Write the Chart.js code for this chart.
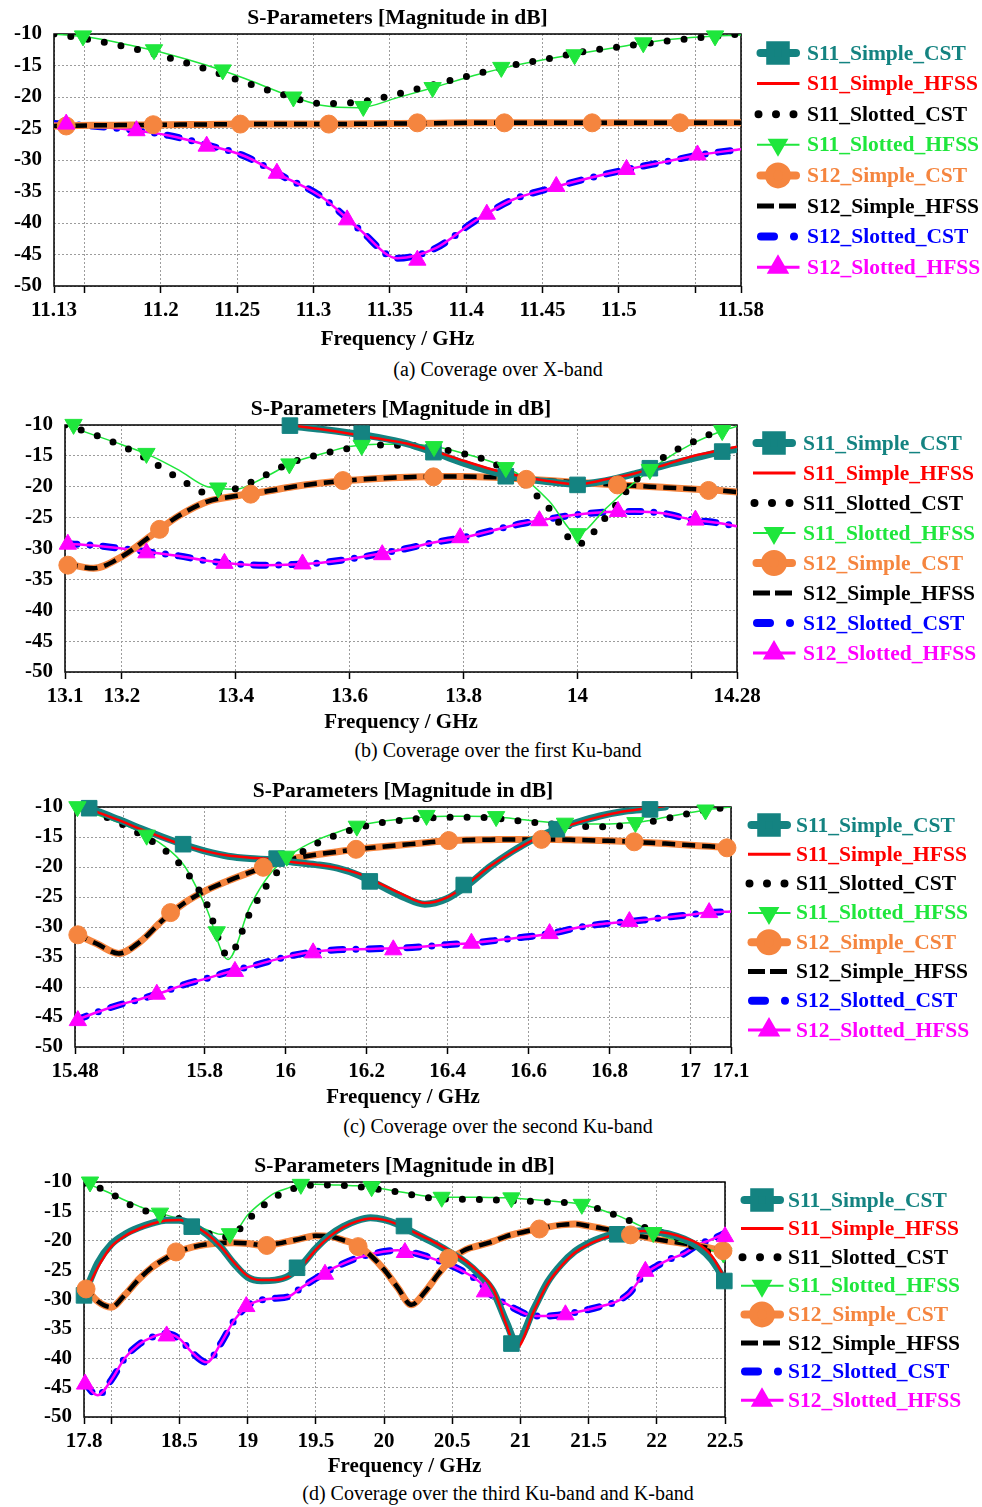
<!DOCTYPE html>
<html>
<head>
<meta charset="utf-8">
<script src="https://cdn.jsdelivr.net/npm/chart.js@4.4.1/dist/chart.umd.min.js"></script>
<style>
  html, body { margin: 0; padding: 0; background: #fff; }
  body { width: 982px; height: 1507px; position: relative; overflow: hidden; }
  canvas { position: absolute; left: 0; }
  .cap { position: absolute; left: 0; width: 996px; text-align: center; line-height: 24px;
         font: 20px 'Liberation Serif', 'Times New Roman', serif; color: #000; }
</style>
</head>
<body>
<canvas id="chartA" width="982" height="352" style="top:0px"></canvas>
<div class="cap" style="top:358px">(a) Coverage over X-band</div>
<canvas id="chartB" width="982" height="345" style="top:390px"></canvas>
<div class="cap" style="top:739px">(b) Coverage over the first Ku-band</div>
<canvas id="chartC" width="982" height="338" style="top:772px"></canvas>
<div class="cap" style="top:1115px">(c) Coverage over the second Ku-band</div>
<canvas id="chartD" width="982" height="332" style="top:1147px"></canvas>
<div class="cap" style="top:1482px">(d) Coverage over the third Ku-band and K-band</div>

<script>
/* ---------- (a) X-band ---------- */
const freqA = [11.13, 11.155, 11.18, 11.205, 11.23, 11.255, 11.28, 11.305, 11.33, 11.355,
               11.38, 11.405, 11.43, 11.455, 11.48, 11.505, 11.53, 11.555, 11.58];
const a_s11SimpleCst = [];   // above -10 dB over the whole band, nothing on the plot
const a_s11SimpleHfss = [];
const a_s11SlottedCst = [-10.0, -10.96, -12.2, -13.76, -15.6, -17.68, -19.63, -21.02, -20.8, -19.5,
                         -17.97, -16.45, -14.99, -13.85, -12.68, -11.9, -11.17, -10.53, -10.0];
const a_s11SlottedHfss = [-10.0, -10.6, -11.8, -13.2, -14.97, -17.07, -19.42, -21.3, -21.7, -20.1,
                          -18.4, -16.6, -15.1, -13.9, -12.85, -11.85, -10.95, -10.45, -10.15];
const a_s12SimpleCst = [-24.6, -24.5, -24.45, -24.4, -24.35, -24.3, -24.3, -24.3, -24.25, -24.2,
                        -24.15, -24.1, -24.1, -24.1, -24.1, -24.1, -24.1, -24.1, -24.1];
const a_s12SimpleHfss = a_s12SimpleCst;      // the two solvers overlap
const a_s12SlottedCst = [-24.2, -24.6, -25.2, -26.1, -27.6, -29.4, -32.6, -35.8, -41.0, -45.6,
                         -44.0, -39.8, -36.35, -34.5, -32.9, -31.5, -30.3, -29.1, -28.3];
const a_s12SlottedHfss = a_s12SlottedCst;
const a_squareMarks = [];
const a_triDownMarks = [[11.149, -10.3], [11.1955, -12.5], [11.2405, -15.7], [11.2868, -20.0], [11.3326, -21.5],
                        [11.378, -18.5], [11.423, -15.3], [11.471, -13.3], [11.516, -11.4], [11.563, -10.3]];
const a_circleMarks = [[11.138, -24.6], [11.195, -24.4], [11.252, -24.3], [11.31, -24.3],
                       [11.368, -24.1], [11.425, -24.1], [11.4825, -24.1], [11.54, -24.1]];
const a_triUpMarks = [[11.138, -24.3], [11.184, -25.35], [11.23, -27.8], [11.276, -32.1], [11.322, -39.5],
                      [11.368, -45.9], [11.4135, -38.6], [11.459, -34.2], [11.505, -31.5], [11.5515, -29.2]];
const a_tickVals = [11.13, 11.15, 11.2, 11.25, 11.3, 11.35, 11.4, 11.45, 11.5, 11.55, 11.58];
const a_tickText = ['11.13', '', '11.2', '11.25', '11.3', '11.35', '11.4', '11.45', '11.5', '', '11.58'];

/* ---------- (b) first Ku-band ---------- */
const freqB = [13.1, 13.15, 13.2, 13.25, 13.3, 13.35, 13.4, 13.45, 13.5, 13.55, 13.6, 13.65, 13.7,
               13.75, 13.8, 13.85, 13.9, 13.95, 14.0, 14.05, 14.1, 14.15, 14.2, 14.25, 14.28];
const b_s11SimpleCst = [null, null, null, null, null, null, null, null, -10.2, -10.7, -11.3, -12.0, -13.0,
                        -14.5, -16.2, -17.6, -18.6, -19.2, -19.6, -19.0, -17.9, -16.6, -15.5, -14.4, -13.9];
const b_s11SimpleHfss = [null, null, null, null, null, null, null, null, -10.1, -10.7, -11.4, -12.2, -13.0,
                         -14.3, -15.8, -17.2, -18.3, -19.1, -19.6, -18.8, -17.85, -16.55, -15.1, -14.1, -13.5];
const b_s11SlottedCst = [-10.0, -11.5, -13.4, -15.8, -18.65, -21.0, -20.3, -18.2, -16.0, -14.7, -13.75, -13.25, -13.3,
                         -13.8, -14.65, -16.1, -19.2, -23.5, -29.3, -24.9, -19.2, -15.3, -12.85, -10.9, -10.2];
const b_s11SlottedHfss = [-10.0, -11.6, -13.2, -14.95, -17.3, -20.0, -20.4, -18.5, -16.1, -14.7, -13.5, -13.1, -13.1,
                          -13.5, -14.6, -16.0, -18.2, -22.3, -27.6, -23.5, -19.3, -15.8, -13.1, -11.1, -10.2];
const b_s12SimpleCst = [-32.4, -33.2, -31.3, -28.0, -24.7, -22.4, -21.5, -20.8, -20.0, -19.4, -18.95, -18.65, -18.45,
                        -18.35, -18.35, -18.45, -18.7, -19.0, -19.3, -19.6, -19.85, -20.1, -20.35, -20.6, -20.85];
const b_s12SimpleHfss = b_s12SimpleCst;
const b_s12SlottedCst = [-29.2, -29.5, -30.0, -30.6, -31.2, -32.0, -32.5, -32.7, -32.6, -32.3, -31.7, -30.9, -30.0,
                         -29.0, -28.2, -27.1, -26.0, -25.2, -24.5, -24.1, -24.0, -24.3, -25.3, -25.9, -26.4];
const b_s12SlottedHfss = b_s12SlottedCst;
const b_squareMarks = [[13.495, -10.1], [13.621, -11.4], [13.747, -14.4], [13.874, -18.3],
                       [14.0, -19.7], [14.127, -17.0], [14.254, -14.3]];
const b_triDownMarks = [[13.115, -9.9], [13.243, -14.6], [13.369, -20.2], [13.494, -16.3], [13.621, -13.3],
                        [13.748, -13.5], [13.874, -16.9], [14.0, -27.6], [14.127, -17.2], [14.254, -10.9]];
const b_circleMarks = [[13.105, -32.7], [13.266, -26.9], [13.426, -21.2], [13.588, -19.0],
                       [13.747, -18.4], [13.91, -18.8], [14.07, -19.7], [14.23, -20.6]];
const b_triUpMarks = [[13.105, -29.3], [13.243, -30.7], [13.38, -32.4], [13.517, -32.5], [13.657, -31.0],
                      [13.794, -28.25], [13.933, -25.5], [14.071, -24.0], [14.207, -25.4]];
const b_tickVals = [13.1, 13.2, 13.4, 13.6, 13.8, 14.0, 14.2, 14.28];
const b_tickText = ['13.1', '13.2', '13.4', '13.6', '13.8', '14', '', '14.28'];

/* ---------- (c) second Ku-band ---------- */
const freqC = [15.48, 15.534, 15.588, 15.642, 15.696, 15.75, 15.804, 15.858, 15.912, 15.966, 16.02,
               16.074, 16.128, 16.182, 16.236, 16.29, 16.344, 16.398, 16.452, 16.506, 16.56,
               16.614, 16.668, 16.722, 16.776, 16.83, 16.884, 16.938, 16.992, 17.046, 17.1];
const c_s11SimpleCst = [-9.8, -10.7, -12.1, -13.6, -15.0, -16.3, -17.4, -18.2, -18.6, -18.8, -19.2,
                        -19.6, -20.2, -21.4, -23.2, -25.0, -26.2, -25.3, -22.9, -19.9, -17.4,
                        -15.3, -13.7, -12.5, -11.5, -10.8, -10.4, -10.0, null, null, null];
const c_s11SimpleHfss = [-9.4, -10.8, -12.2, -13.7, -15.1, -16.4, -17.4, -18.1, -18.45, -18.7, -19.2,
                         -19.6, -20.15, -21.15, -22.85, -24.6, -26.0, -25.1, -22.7, -19.85, -17.5,
                         -15.4, -13.8, -12.6, -11.6, -10.8, -10.3, -9.85, null, null, null];
const c_s11SlottedCst = [-10.0, -11.1, -12.6, -14.6, -16.9, -20.4, -26.0, -34.8, -27.7, -21.9, -18.5,
                         -16.2, -14.6, -13.45, -12.63, -12.2, -11.85, -11.72, -11.7, -11.8, -12.2,
                         -12.56, -12.9, -13.2, -13.28, -13.12, -12.67, -11.98, -11.14, -10.46, -10.0];
const c_s11SlottedHfss = [-10.0, -11.3, -12.6, -14.2, -16.3, -19.8, -26.8, -35.4, -26.6, -20.8, -17.6,
                          -15.6, -14.2, -13.1, -12.4, -11.95, -11.65, -11.55, -11.55, -11.6, -11.9,
                          -12.3, -12.65, -12.85, -12.85, -12.7, -12.4, -11.7, -11.0, -10.4, -10.0];
const c_s12SimpleCst = [-31.1, -32.8, -34.4, -32.4, -28.9, -26.0, -23.9, -22.3, -20.9, -19.6, -18.6,
                        -17.95, -17.45, -17.0, -16.64, -16.3, -15.96, -15.63, -15.5, -15.45, -15.4,
                        -15.4, -15.4, -15.5, -15.6, -15.7, -15.9, -16.1, -16.35, -16.55, -16.8];
const c_s12SimpleHfss = c_s12SimpleCst;
const c_s12SlottedCst = [-45.6, -44.2, -43.0, -42.0, -40.9, -39.6, -38.6, -37.5, -36.6, -35.6, -34.7,
                         -34.1, -33.8, -33.7, -33.6, -33.5, -33.25, -32.95, -32.7, -32.35, -31.9,
                         -31.5, -30.9, -30.1, -29.55, -29.2, -28.85, -28.4, -28.0, -27.6, -27.4];
const c_s12SlottedHfss = c_s12SlottedCst;
const c_squareMarks = [[15.515, -10.2], [15.747, -16.2], [15.978, -18.6], [16.208, -22.4],
                       [16.44, -23.0], [16.67, -13.7], [16.9, -10.4]];
const c_triDownMarks = [[15.486, -9.95], [15.657, -14.7], [15.83, -30.8], [16.003, -18.2], [16.176, -13.2],
                        [16.348, -11.4], [16.52, -11.6], [16.69, -12.7], [16.864, -12.6], [17.037, -10.5]];
const c_circleMarks = [[15.487, -31.3], [15.716, -27.6], [15.945, -20.05], [16.174, -17.05],
                       [16.403, -15.6], [16.632, -15.4], [16.861, -15.8], [17.09, -16.8]];
const c_triUpMarks = [[15.487, -45.6], [15.682, -41.2], [15.875, -37.4], [16.068, -34.3], [16.266, -33.8],
                      [16.459, -32.7], [16.652, -31.1], [16.849, -29.1], [17.046, -27.6]];
const c_tickVals = [15.48, 15.6, 15.8, 16.0, 16.2, 16.4, 16.6, 16.8, 17.0, 17.1];
const c_tickText = ['15.48', '', '15.8', '16', '16.2', '16.4', '16.6', '16.8', '17', '17.1'];

/* ---------- (d) third Ku-band and K-band ---------- */
const freqD = [17.8, 17.9, 18.0, 18.1, 18.2, 18.3, 18.4, 18.5, 18.6, 18.7, 18.8, 18.9,
               19.0, 19.1, 19.2, 19.3, 19.4, 19.5, 19.6, 19.7, 19.8, 19.9, 20.0, 20.1,
               20.2, 20.3, 20.4, 20.5, 20.6, 20.7, 20.8, 20.9, 20.97, 21.1, 21.2, 21.3,
               21.4, 21.5, 21.6, 21.7, 21.8, 21.9, 22.0, 22.1, 22.2, 22.3, 22.4, 22.5];
const d_s11SimpleCst = [-29.3, -23.8, -20.6, -18.9, -17.8, -17.0, -16.5, -16.5, -17.4, -18.9, -21.0, -23.9,
                        -26.2, -26.8, -26.7, -26.0, -24.0, -21.3, -19.1, -17.6, -16.6, -16.1, -16.4, -17.2,
                        -18.4, -19.6, -20.8, -22.2, -23.7, -25.8, -28.6, -34.0, -37.3, -31.5, -27.0, -24.0,
                        -21.8, -20.4, -19.4, -18.8, -18.5, -18.3, -18.5, -18.9, -19.7, -21.0, -23.2, -26.8];
const d_s11SimpleHfss = [-29.5, -24.6, -21.0, -19.2, -18.0, -17.1, -16.55, -16.45, -17.4, -18.8, -20.9, -23.7,
                         -26.0, -26.7, -26.7, -26.1, -24.25, -21.5, -19.3, -17.7, -16.7, -16.2, -16.45, -17.2,
                         -18.3, -19.45, -20.65, -22.0, -23.5, -25.5, -28.2, -34.5, -38.3, -31.9, -27.3, -24.3,
                         -22.0, -20.6, -19.65, -18.9, -18.6, -18.35, -18.5, -18.8, -19.5, -20.45, -22.5, -26.4];
const d_s11SlottedCst = [-10.2, -10.9, -11.97, -13.4, -14.5, -15.28, -15.77, -16.23, -17.3, -18.63, -19.37, -18.9,
                         -16.5, -14.3, -12.6, -11.4, -10.76, -10.5, -10.5, -10.6, -10.77, -11.09, -11.38, -11.7,
                         -12.15, -12.6, -12.82, -12.93, -12.96, -13.0, -13.06, -13.15, -13.2, -13.29, -13.39, -13.5,
                         -13.46, -13.97, -14.8, -15.67, -16.56, -17.63, -18.4, -18.96, -20.1, -21.5, -21.9, -21.9];
const d_s11SlottedHfss = [-10.0, -11.0, -12.0, -13.1, -14.1, -15.0, -15.6, -16.3, -17.2, -18.1, -18.9, -18.6,
                          -15.6, -13.5, -11.85, -11.0, -10.45, -10.4, -10.45, -10.55, -10.65, -10.8, -11.2, -11.6,
                          -12.0, -12.4, -12.6, -12.6, -12.6, -12.6, -12.65, -12.7, -12.75, -13.0, -13.2, -13.4,
                          -13.6, -14.1, -14.8, -15.6, -16.6, -17.7, -18.8, -19.6, -20.3, -21.0, -21.6, -22.2];
const d_s12SimpleCst = [-27.7, -30.3, -31.3, -29.2, -26.6, -24.5, -23.0, -21.8, -21.05, -20.6, -20.37, -20.33,
                        -20.46, -20.73, -20.56, -20.1, -19.6, -19.16, -19.26, -19.9, -20.7, -22.47, -24.9, -27.97,
                        -30.9, -28.7, -25.6, -23.0, -21.5, -20.8, -20.1, -19.2, -18.8, -18.1, -17.67, -17.3,
                        -17.14, -17.5, -17.9, -18.4, -18.87, -19.3, -19.76, -20.12, -20.46, -20.86, -21.3, -21.75];
const d_s12SimpleHfss = d_s12SimpleCst;
const d_s12SlottedCst = [-44.1, -46.3, -43.7, -39.95, -37.7, -36.4, -35.8, -36.7, -39.2, -40.7, -37.6, -33.6,
                         -31.05, -30.1, -29.8, -29.5, -27.9, -26.4, -25.0, -23.9, -22.96, -22.3, -21.84, -21.6,
                         -21.96, -22.57, -23.4, -24.3, -25.46, -27.0, -29.5, -30.8, -31.7, -32.8, -32.8, -32.6,
                         -32.2, -31.7, -31.1, -30.4, -28.9, -25.9, -24.3, -23.1, -22.2, -20.7, -19.8, -18.7];
const d_s12SlottedHfss = d_s12SlottedCst;
const d_squareMarks = [[17.8, -29.3], [18.59, -17.6], [19.362, -24.6], [20.146, -17.5],
                       [20.934, -37.5], [21.71, -18.9], [22.495, -26.85]];
const d_triDownMarks = [[17.844, -10.0], [18.357, -15.3], [18.87, -18.8], [19.39, -10.4], [19.909, -10.8],
                        [20.423, -12.6], [20.934, -12.7], [21.45, -13.8], [21.974, -18.6], [22.488, -22.1]];
const d_circleMarks = [[17.815, -28.2], [18.475, -21.9], [19.14, -20.8], [19.81, -21.0],
                       [20.473, -23.0], [21.139, -18.0], [21.807, -19.0], [22.485, -21.7]];
const d_triUpMarks = [[17.808, -44.4], [18.406, -36.2], [18.99, -31.2], [19.567, -25.7], [20.153, -22.0],
                      [20.74, -28.7], [21.33, -32.6], [21.916, -25.2], [22.5, -19.3]];
const d_tickVals = [17.8, 18, 18.5, 19, 19.5, 20, 20.5, 21, 21.5, 22, 22.5];
const d_tickText = ['17.8', '', '18.5', '19', '19.5', '20', '20.5', '21', '21.5', '22', '22.5'];

/* ---------- styles ---------- */
const FONT = "'Liberation Serif', 'Times New Roman', serif";
const TEAL = '#148381', RED = '#ff0000', GREEN = '#1fe63c', ORANGE = '#f5853f',
      BLUE = '#0000ff', MAGENTA = '#ff00ff', BLACK = '#000000';

const MARKERS = {
  square:  { pointStyle: 'rect', radius: 11, rotation: 0 },
  triDown: { pointStyle: 'triangle', radius: 10, rotation: 180 },
  circle:  { pointStyle: 'circle', radius: 9, rotation: 0 },
  triUp:   { pointStyle: 'triangle', radius: 10, rotation: 0 }
};

// legend order; legDash / legStart shape the short legend sample
const SERIES = [
  { key: 's11SimpleCst',   label: 'S11_Simple_CST',   color: TEAL,    width: 7,   dash: [],              cap: 'round', marker: 'square' },
  { key: 's11SimpleHfss',  label: 'S11_Simple_HFSS',  color: RED,     width: 2.5, dash: [],              cap: 'butt' },
  { key: 's11SlottedCst',  label: 'S11_Slotted_CST',  color: BLACK,   width: 7,   dash: [0, 17],         cap: 'round', legDash: [0, 17.5], legStart: 1.5 },
  { key: 's11SlottedHfss', label: 'S11_Slotted_HFSS', color: GREEN,   width: 1.5, dash: [],              cap: 'butt',  marker: 'triDown' },
  { key: 's12SimpleCst',   label: 'S12_Simple_CST',   color: ORANGE,  width: 7,   dash: [],              cap: 'round', marker: 'circle' },
  { key: 's12SimpleHfss',  label: 'S12_Simple_HFSS',  color: BLACK,   width: 4.5, dash: [13, 7],         cap: 'butt',  legDash: [17, 5], legStart: 0 },
  { key: 's12SlottedCst',  label: 'S12_Slotted_CST',  color: BLUE,    width: 7,   dash: [12, 13, 0, 13], cap: 'round', legDash: [13, 20, 0, 40], legStart: 4 },
  { key: 's12SlottedHfss', label: 'S12_Slotted_HFSS', color: MAGENTA, width: 2.5, dash: [],              cap: 'butt',  marker: 'triUp' }
];
const styleOf = k => SERIES.find(s => s.key === k);
// first drawn on top
const LINE_ORDER = ['s11SimpleHfss', 's11SimpleCst', 's11SlottedCst', 's11SlottedHfss',
                    's12SimpleHfss', 's12SimpleCst', 's12SlottedHfss', 's12SlottedCst'];
const MARK_ORDER = [['triUp', 's12SlottedHfss'], ['circle', 's12SimpleCst'],
                    ['triDown', 's11SlottedHfss'], ['square', 's11SimpleCst']];

/* ---------- dataset builders ---------- */
function lineSet(freq, vals, st) {
  const pts = [];
  vals.forEach((v, i) => { if (v !== null && v !== undefined) pts.push({ x: freq[i], y: v }); });
  return {
    label: st.label, data: pts, borderColor: st.color, backgroundColor: st.color,
    borderWidth: st.width, borderDash: st.dash, borderCapStyle: st.cap, borderJoinStyle: 'round',
    pointRadius: 0, cubicInterpolationMode: 'monotone', fill: false
  };
}

function markSet(pairs, mk, st) {
  const m = MARKERS[mk];
  return {
    label: st.label + ' markers', data: pairs.map(p => ({ x: p[0], y: p[1] })),
    showLine: false, pointStyle: m.pointStyle, pointRadius: m.radius, pointRotation: m.rotation,
    pointBackgroundColor: st.color, pointBorderColor: st.color, pointBorderWidth: 1, clip: false
  };
}

/* ---------- frame, title and legend ---------- */
const panelDecor = {
  id: 'panelDecor',
  beforeDatasetsDraw(chart) {
    const { ctx, chartArea: a } = chart;
    ctx.save();
    ctx.strokeStyle = '#000';
    ctx.lineWidth = 1.5;
    ctx.setLineDash([]);
    ctx.strokeRect(a.left, a.top, a.right - a.left, a.bottom - a.top);
    ctx.restore();
  },
  afterDraw(chart, args, opts) {
    const { ctx, chartArea: a } = chart;
    ctx.save();
    ctx.fillStyle = '#000';
    ctx.font = 'bold 21.5px ' + FONT;
    ctx.textAlign = 'center';
    ctx.textBaseline = 'middle';
    ctx.fillText('S-Parameters [Magnitude in dB]', (a.left + a.right) / 2, opts.titleY);

    ctx.textAlign = 'left';
    SERIES.forEach((st, i) => {
      const y = opts.legY + i * opts.legDy;
      const x0 = opts.legX, x1 = opts.legX + 42;
      const inset = st.cap === 'round' ? 3.5 : 0;
      const start = st.legStart !== undefined ? st.legStart : inset;
      ctx.strokeStyle = st.color;
      ctx.fillStyle = st.color;
      ctx.lineWidth = st.width + (st.width >= 7 ? 1 : 0.5);
      ctx.lineCap = st.cap;
      ctx.setLineDash(st.legDash || st.dash);
      ctx.beginPath();
      ctx.moveTo(x0 + start, y);
      ctx.lineTo(st.legDash ? x1 : x1 - inset + 0.5, y);
      ctx.stroke();
      ctx.setLineDash([]);
      if (st.marker) {
        const m = MARKERS[st.marker];
        Chart.helpers.drawPoint(ctx, { pointStyle: m.pointStyle, rotation: m.rotation, radius: m.radius, borderWidth: 1 },
                                (x0 + x1) / 2, y);
      }
      ctx.font = 'bold 21.5px ' + FONT;
      ctx.fillText(st.label, opts.legTextX, y + 1);
    });
    ctx.restore();
  }
};

/* ---------- chart factory ---------- */
function makePanel(canvasId, p) {
  const datasets = [];
  MARK_ORDER.forEach(([mk, key]) => datasets.push(markSet(p.marks[mk], mk, styleOf(key))));
  LINE_ORDER.forEach(key => datasets.push(lineSet(p.freq, p.series[key], styleOf(key))));

  const gridColor = '#9c9c9c';
  const tickFont = { family: FONT, size: 21, weight: 'bold' };

  return new Chart(document.getElementById(canvasId), {
    type: 'line',
    data: { datasets },
    options: {
      responsive: false,
      animation: false,
      events: [],
      layout: { padding: { top: p.plot.top - p.top, left: 0, right: 982 - p.plot.right, bottom: 0 } },
      scales: {
        x: {
          type: 'linear', min: p.xMin, max: p.xMax,
          afterBuildTicks: s => { s.ticks = p.tickVals.map(v => ({ value: v })); },
          afterFit: s => { s.height = p.height - (p.plot.bottom - p.top); },
          ticks: { autoSkip: false, maxRotation: 0, padding: 5, color: '#000', font: tickFont,
                   callback: (v, i) => p.tickText[i] },
          grid: { color: gridColor, lineWidth: 1, drawTicks: true, tickLength: 7,
                  tickColor: '#000', tickWidth: 1.5 },
          border: { display: false, dash: [2, 2] },
          title: { display: true, text: 'Frequency / GHz', color: '#000', padding: 0,
                   font: { family: FONT, size: 21, weight: 'bold' } }
        },
        y: {
          min: -50, max: -10,
          afterFit: s => { s.width = p.plot.left; },
          ticks: { stepSize: 5, padding: 12, color: '#000', font: tickFont },
          grid: { color: gridColor, lineWidth: 1, drawTicks: false },
          border: { display: false, dash: [2, 2] }
        }
      },
      plugins: {
        legend: { display: false },
        tooltip: { enabled: false },
        panelDecor: {
          titleY: p.titleY - p.top,
          legX: p.legend.x, legTextX: p.legend.textX,
          legY: p.legend.y0 - p.top, legDy: p.legend.dy
        }
      }
    },
    plugins: [panelDecor]
  });
}

makePanel('chartA', {
  top: 0, height: 352, plot: { left: 54, right: 741, top: 34, bottom: 286 },
  xMin: 11.13, xMax: 11.58, tickVals: a_tickVals, tickText: a_tickText, titleY: 18,
  legend: { x: 757, textX: 807, y0: 53, dy: 30.6 },
  freq: freqA,
  series: { s11SimpleCst: a_s11SimpleCst, s11SimpleHfss: a_s11SimpleHfss, s11SlottedCst: a_s11SlottedCst,
            s11SlottedHfss: a_s11SlottedHfss, s12SimpleCst: a_s12SimpleCst, s12SimpleHfss: a_s12SimpleHfss,
            s12SlottedCst: a_s12SlottedCst, s12SlottedHfss: a_s12SlottedHfss },
  marks: { square: a_squareMarks, triDown: a_triDownMarks, circle: a_circleMarks, triUp: a_triUpMarks }
});

makePanel('chartB', {
  top: 390, height: 345, plot: { left: 65, right: 737, top: 425, bottom: 672 },
  xMin: 13.1, xMax: 14.28, tickVals: b_tickVals, tickText: b_tickText, titleY: 409,
  legend: { x: 753, textX: 803, y0: 443, dy: 30 },
  freq: freqB,
  series: { s11SimpleCst: b_s11SimpleCst, s11SimpleHfss: b_s11SimpleHfss, s11SlottedCst: b_s11SlottedCst,
            s11SlottedHfss: b_s11SlottedHfss, s12SimpleCst: b_s12SimpleCst, s12SimpleHfss: b_s12SimpleHfss,
            s12SlottedCst: b_s12SlottedCst, s12SlottedHfss: b_s12SlottedHfss },
  marks: { square: b_squareMarks, triDown: b_triDownMarks, circle: b_circleMarks, triUp: b_triUpMarks }
});

makePanel('chartC', {
  top: 772, height: 338, plot: { left: 75, right: 731, top: 807, bottom: 1047 },
  xMin: 15.48, xMax: 17.1, tickVals: c_tickVals, tickText: c_tickText, titleY: 791,
  legend: { x: 748, textX: 796, y0: 825, dy: 29.3 },
  freq: freqC,
  series: { s11SimpleCst: c_s11SimpleCst, s11SimpleHfss: c_s11SimpleHfss, s11SlottedCst: c_s11SlottedCst,
            s11SlottedHfss: c_s11SlottedHfss, s12SimpleCst: c_s12SimpleCst, s12SimpleHfss: c_s12SimpleHfss,
            s12SlottedCst: c_s12SlottedCst, s12SlottedHfss: c_s12SlottedHfss },
  marks: { square: c_squareMarks, triDown: c_triDownMarks, circle: c_circleMarks, triUp: c_triUpMarks }
});

makePanel('chartD', {
  top: 1147, height: 332, plot: { left: 84, right: 725, top: 1182, bottom: 1417 },
  xMin: 17.8, xMax: 22.5, tickVals: d_tickVals, tickText: d_tickText, titleY: 1166,
  legend: { x: 741, textX: 788, y0: 1200, dy: 28.6 },
  freq: freqD,
  series: { s11SimpleCst: d_s11SimpleCst, s11SimpleHfss: d_s11SimpleHfss, s11SlottedCst: d_s11SlottedCst,
            s11SlottedHfss: d_s11SlottedHfss, s12SimpleCst: d_s12SimpleCst, s12SimpleHfss: d_s12SimpleHfss,
            s12SlottedCst: d_s12SlottedCst, s12SlottedHfss: d_s12SlottedHfss },
  marks: { square: d_squareMarks, triDown: d_triDownMarks, circle: d_circleMarks, triUp: d_triUpMarks }
});
</script>
</body>
</html>
